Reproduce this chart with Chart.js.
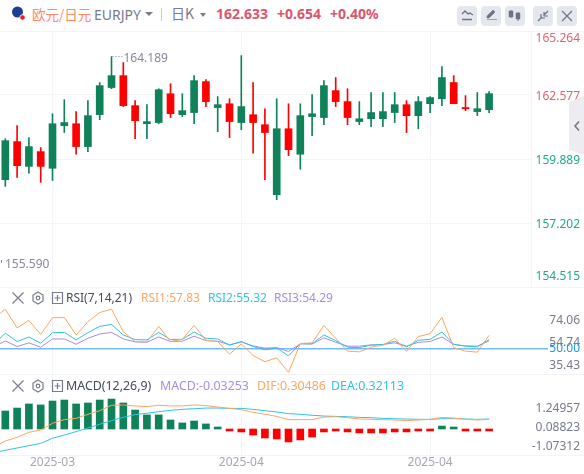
<!DOCTYPE html>
<html>
<head>
<meta charset="utf-8">
<title>EURJPY</title>
<script src="https://cdn.jsdelivr.net/npm/chart.js@4"></script>
<style>
html, body { margin: 0; padding: 0; background: #fff; }
body { width: 584px; height: 474px; overflow: hidden; position: relative; font-family: "Noto Sans", "Noto Sans CJK SC", sans-serif; font-size: 12px; }
canvas { position: absolute; left: 0; }
.t { position: absolute; white-space: nowrap; line-height: 16px; }
.b { font-weight: 700; font-size: 14px; color: #d9566b; top: 5px; line-height: 18px; }
.rule { position: absolute; left: 0; width: 584px; height: 1px; background: #f3f4f7; }
.tool { position: absolute; top: 6px; width: 20px; height: 20px; background: #e5e7ef; border-radius: 4px; }
svg { position: absolute; overflow: visible; }
</style>
</head>
<body>

<!-- header -->
<svg style="left:0;top:0" width="30" height="24">
  <circle cx="17.5" cy="12" r="5.5" fill="#1c3f94"/>
  <circle cx="22.5" cy="17.5" r="2.7" fill="#f01c24" stroke="#fff" stroke-width="0.8"/>
</svg>
<span class="t" style="left:32px;top:5px;font-size:13.5px;line-height:18px;color:#ff8a65;font-family:'Noto Sans CJK SC'">欧元/日元</span>
<span class="t" style="left:94px;top:6px;font-size:14px;line-height:18px;color:#777b8c">EURJPY</span>
<svg style="left:145px;top:12px" width="8" height="6"><path d="M0 0H8L4 4Z" fill="#777b8c"/></svg>
<div style="position:absolute;left:161px;top:8px;width:1px;height:13px;background:#c9ccd6"></div>
<span class="t" style="left:171px;top:4px;font-size:14px;line-height:18px;color:#777b8c;font-family:'Noto Sans CJK SC'">日K</span>
<svg style="left:200px;top:13px" width="8" height="6"><path d="M0 0H6L3 4Z" fill="#777b8c"/></svg>
<span class="t b" style="left:216px">162.633</span>
<span class="t b" style="left:277px">+0.654</span>
<span class="t b" style="left:330px">+0.40%</span>

<div class="tool" style="left:457px"></div>
<div class="tool" style="left:481px"></div>
<div class="tool" style="left:505px"></div>
<div class="tool" style="left:533px"></div>
<div class="tool" style="left:557px"></div>
<svg style="left:0;top:0" width="584" height="30" fill="none" stroke="#6f7384" stroke-width="1.4">
  <path d="M462 14l3-3 3 3 2-1 3 2M462 19.500h10"/>
  <path d="M487 19.500h10M487 16l6-6 2 2-6 6h-2z" fill="#6f7384" stroke-width="0.6"/>
  <path d="M511 10v8M518 12v9M511 12v4M518 14v5" stroke-width="1"/>
  <path d="M509 11h4v6h-4zM516 13h4v6h-4z" fill="#6f7384" stroke-width="0.5"/>
  <path d="M538 21l4-4M548 11l-4 4M541 14v4h4M544 12v4h4" stroke-width="1.2"/>
  <path d="M562 11l10 10M572 11l-10 10" stroke-width="1.2"/>
</svg>

<div class="rule" style="top:31px"></div>
<div class="rule" style="top:287px"></div>
<div class="rule" style="top:374px"></div>
<div class="rule" style="top:455px"></div>

<canvas id="priceChart" width="584" height="258" style="top:30px"></canvas>
<canvas id="rsiChart" width="584" height="86" style="top:288px"></canvas>
<canvas id="macdChart" width="584" height="99" style="top:375px"></canvas>

<!-- collapse tab -->
<svg style="left:0;top:0" width="584" height="160">
  <polygon points="569,102 584,96 584,155 569,150" fill="#ececf1"/>
  <path d="M579 121.500l-4 4.500 4 4.500" fill="none" stroke="#6f7384" stroke-width="1.500"/>
</svg>

<!-- RSI title row -->
<svg style="left:0;top:0" width="70" height="400" fill="none" stroke="#777b8c" stroke-width="1.200">
  <path d="M12.500 292.500l11 11M23.500 292.500l-11 11"/>
  <path d="M38 292l5 3v6l-5 3-5-3v-6z"/><circle cx="38" cy="298" r="1.800"/>
  <path d="M52.500 292.500h10v11h-10zM54.500 298h6M57.500 295v6"/>
  <path d="M12.500 380.500l11 11M23.500 380.500l-11 11"/>
  <path d="M38 380l5 3v6l-5 3-5-3v-6z"/><circle cx="38" cy="386" r="1.800"/>
  <path d="M52.500 380.500h10v11h-10zM54.500 386h6M57.500 383v6"/>
</svg>
<span class="t" style="left:66px;top:290px;color:#444a5a">RSI(7,14,21)</span>
<span class="t" style="left:141px;top:290px;color:#ffa55e">RSI1:57.83</span>
<span class="t" style="left:208px;top:290px;color:#2fc4e0">RSI2:55.32</span>
<span class="t" style="left:274px;top:290px;color:#a98be8">RSI3:54.29</span>

<!-- MACD title row -->
<span class="t" style="left:66px;top:378px;font-size:12.4px;color:#444a5a">MACD(12,26,9)</span>
<span class="t" style="left:160px;top:378px;font-size:12.4px;color:#a98be8">MACD:-0.03253</span>
<span class="t" style="left:257px;top:378px;font-size:12.4px;color:#ffa55e">DIF:0.30486</span>
<span class="t" style="left:331px;top:378px;font-size:12.4px;color:#2fc4e0">DEA:0.32113</span>

<script>
// candles, oldest first
const opens = [159.02, 160.62, 159.58, 160.20, 159.50, 161.29, 161.37, 160.41, 161.75, 162.89, 163.39, 162.13, 161.37, 161.42,
    162.63, 161.75, 161.84, 163.14, 162.05, 162.21, 161.42, 161.75, 161.33, 158.39, 161.16, 160.09, 161.67, 161.63, 162.76,
    162.30, 161.46, 161.58, 161.58, 161.84, 162.17, 161.71, 162.21, 162.42, 163.10, 162.05, 161.88, 161.96];
const closes = [160.66, 159.61, 160.41, 159.58, 161.37, 161.42, 160.41, 161.71, 162.97, 163.39, 162.13, 161.50, 161.46, 162.80,
    161.79, 161.92, 163.18, 162.30, 162.17, 161.46, 162.09, 161.42, 161.00, 161.16, 160.28, 161.71, 161.79, 162.97, 162.30,
    161.63, 161.58, 161.84, 161.88, 162.17, 161.71, 162.30, 162.47, 163.31, 162.21, 162.00, 162.00, 162.633];
const highs = [160.74, 161.29, 160.79, 160.37, 161.79, 162.38, 161.88, 162.34, 163.10, 164.189, 163.94, 162.34, 162.17, 162.84,
    163.05, 162.63, 163.39, 163.22, 162.51, 162.42, 164.23, 163.10, 162.00, 162.42, 162.21, 162.21, 162.59, 163.18, 163.31,
    162.84, 162.30, 162.68, 162.68, 162.68, 162.34, 162.51, 162.51, 163.77, 163.39, 162.55, 162.68, 162.72];
const lows = [158.74, 159.12, 159.29, 158.91, 158.99, 161.00, 160.09, 160.20, 161.54, 162.84, 162.09, 160.74, 160.74, 161.37,
    161.63, 161.67, 161.37, 162.09, 161.04, 160.79, 161.12, 160.13, 159.02, 158.18, 160.03, 159.46, 160.87, 161.33, 162.09,
    161.33, 161.33, 161.25, 161.25, 161.42, 161.00, 161.16, 161.84, 162.13, 162.21, 161.92, 161.71, 161.84];

// indicator lines start one bar before the first visible candle
const rsi1 = [75.5, 83.3, 67.4, 73.8, 62.0, 76.1, 76.3, 61.5, 72.7, 80.5, 83.3, 64.3, 55.9, 55.6, 68.8, 55.9, 57.8, 69.6, 57.0, 55.9,
    45.2, 53.9, 44.1, 38.8, 42.2, 29.8, 54.2, 54.8, 69.6, 58.7, 47.8, 47.2, 51.1, 52.8, 58.7, 47.5, 60.1, 62.6, 76.3, 50.8, 47.8, 46.9, 61.2];
const rsi2 = [53.6, 62.9, 55.9, 59.8, 54.5, 63.4, 63.7, 57.3, 63.4, 68.8, 70.4, 61.5, 57.6, 57.3, 63.7, 57.6, 57.8, 64.0, 58.7, 58.1,
    52.8, 55.9, 51.7, 48.9, 50.3, 43.8, 54.2, 53.9, 61.5, 56.7, 51.1, 50.8, 52.8, 53.4, 56.2, 51.4, 57.0, 57.8, 64.0, 53.6, 52.0, 51.4, 57.6];
const rsi3 = [51.4, 56.4, 51.7, 54.8, 51.1, 58.1, 58.1, 53.6, 58.7, 62.3, 63.7, 58.1, 55.6, 55.3, 59.8, 55.9, 56.2, 60.4, 56.7, 56.2,
    53.1, 55.6, 52.2, 50.3, 50.8, 47.5, 53.9, 53.9, 59.0, 55.3, 52.0, 52.0, 53.1, 53.4, 54.8, 52.0, 55.3, 55.9, 59.8, 53.4, 52.2, 52.0, 56.4];

const macdBars = [1.10, 1.28, 1.53, 1.47, 1.71, 1.77, 1.53, 1.59, 1.77, 1.83, 1.59, 1.16, 0.86, 0.86, 0.55, 0.37, 0.49, 0.31, 0.12,
    -0.12, -0.18, -0.37, -0.55, -0.61, -0.79, -0.67, -0.49, -0.18, -0.12, -0.18, -0.24, -0.24, -0.24, -0.18, -0.18, -0.10, -0.04,
    0.18, 0.06, -0.08, -0.10, -0.03253];
const difLine = [-1.14, -0.73, -0.51, -0.20, -0.06, 0.35, 0.57, 0.65, 0.90, 1.12, 1.45, 1.47, 1.41, 1.37, 1.45, 1.41, 1.41, 1.47, 1.43, 1.34,
    1.26, 1.18, 1.02, 0.90, 0.77, 0.57, 0.57, 0.57, 0.73, 0.75, 0.69, 0.61, 0.59, 0.57, 0.55, 0.51, 0.55, 0.59, 0.71, 0.67, 0.59, 0.55, 0.59];
const deaLine = [-1.45, -1.30, -1.16, -1.02, -0.88, -0.57, -0.37, -0.16, 0.06, 0.29, 0.51, 0.71, 0.88, 0.96, 1.06, 1.14, 1.20, 1.24, 1.28, 1.28,
    1.26, 1.26, 1.20, 1.12, 1.04, 0.94, 0.90, 0.84, 0.79, 0.77, 0.75, 0.71, 0.69, 0.65, 0.63, 0.61, 0.59, 0.59, 0.63, 0.63, 0.61, 0.59, 0.61];

// axis labels
const priceTicks = [165.264, 162.577, 159.889, 157.202, 154.515];
const rsiTicks = [74.06, 54.74, 50, 35.43];
const macdTicks = [1.24957, 0.08823, -1.07312];
const dateTickBars = [4, 20, 36];
const dateTickLabels = ["2025-03", "2025-04", "2025-04"];

const highMark = { bar: 9, value: 164.189, text: "164.189" };
const lowMark = { value: 155.59, text: "155.590" };

const UP = "#0f8259";
const DOWN = "#ff0000";
const GRID = "#f4f5f8";
const FONT = { family: "'Noto Sans'", size: 12, lineHeight: 1 };

const candleColors = opens.map((o, i) => closes[i] >= o ? UP : DOWN);

function xAxis(showLabels) {
    return {
        type: "linear",
        offset: false,
        min: -0.45,
        max: 44.55,
        border: { display: false },
        grid: { color: GRID, drawTicks: false, offset: false },
        afterBuildTicks: scale => { scale.ticks = dateTickBars.map(v => ({ value: v })); },
        // date row under the last pane is 19px tall
        afterFit: scale => { if (showLabels) scale.height = 19; },
        ticks: {
            display: showLabels,
            autoSkip: false,
            maxRotation: 0,
            padding: 2,
            color: "#a5a8b4",
            font: FONT,
            callback: value => dateTickLabels[dateTickBars.indexOf(value)]
        }
    };
}

function baseOptions(x, y, top, bottom) {
    return {
        responsive: false,
        animation: false,
        events: [],
        plugins: { legend: { display: false }, tooltip: { enabled: false } },
        layout: { padding: { top: top, bottom: bottom, right: 4 } },
        scales: { x, y }
    };
}

// y axis stays 49px wide so all panes share one plot width
function fixAxis(scale) {
    scale.width = 49;
    scale.paddingTop = 0;
    scale.paddingBottom = 0;
}

function lineSet(values, color) {
    return {
        type: "line",
        data: values.map((v, i) => ({ x: i - 1, y: v })),
        borderColor: color,
        borderWidth: 1,
        pointRadius: 0,
        tension: 0,
        order: 1
    };
}

// high / low marks on the price pane
const marksPlugin = {
    id: "marks",
    afterDatasetsDraw(chart) {
        const { ctx, scales: { x, y } } = chart;
        ctx.save();
        ctx.font = "12px 'Noto Sans'";
        ctx.fillStyle = "#85899a";
        ctx.textBaseline = "middle";
        const hx = x.getPixelForValue(highMark.bar);
        const hy = y.getPixelForValue(highMark.value);
        ctx.fillText(highMark.text, hx + 12, hy + 2);
        ctx.strokeStyle = "#85899a";
        ctx.setLineDash([1, 2]);
        ctx.beginPath();
        ctx.moveTo(hx + 1, Math.round(hy) - 0.5);
        ctx.lineTo(hx + 11, Math.round(hy) - 0.5);
        ctx.stroke();
        const ly = y.getPixelForValue(lowMark.value);
        ctx.fillRect(1, Math.round(ly) - 1, 1, 3);
        ctx.fillText(lowMark.text, 5, ly + 3);
        ctx.restore();
    }
};

new Chart(document.getElementById("priceChart"), {
    type: "bar",
    data: {
        datasets: [
            {
                data: highs.map((h, i) => ({ x: i, y: [lows[i], h] })),
                backgroundColor: candleColors,
                barThickness: 1,
                grouped: false,
                order: 2
            },
            {
                data: opens.map((o, i) => ({ x: i, y: [o, closes[i]] })),
                backgroundColor: candleColors,
                barThickness: 7,
                grouped: false,
                order: 1
            }
        ]
    },
    options: baseOptions(xAxis(false), {
        type: "linear",
        position: "right",
        min: 154.515,
        max: 165.264,
        afterFit: fixAxis,
        afterBuildTicks: scale => { scale.ticks = priceTicks.map(v => ({ value: v })); },
        border: { display: true, color: GRID },
        grid: { color: GRID, drawTicks: false },
        ticks: {
            autoSkip: false,
            crossAlign: "far",
            padding: 0,
            labelOffset: 2,
            font: FONT,
            color: ctx => ctx.tick.value > 161 ? "#e0646f" : "#1eab8c",
            // keep the first and last labels inside the pane
            callback: value => {
                const text = value.toFixed(3);
                if (value === priceTicks[0]) return ["", text];
                if (value === priceTicks[4]) return [text, "", ""];
                return text;
            }
        }
    }, 1, 1),
    plugins: [marksPlugin]
});

new Chart(document.getElementById("rsiChart"), {
    data: {
        datasets: [lineSet(rsi1, "#ffa55e"), lineSet(rsi2, "#2fc4e0"), lineSet(rsi3, "#a98be8")]
    },
    options: baseOptions(xAxis(false), {
        type: "linear",
        position: "right",
        min: 28.4,
        max: 101.3,
        afterFit: fixAxis,
        afterBuildTicks: scale => { scale.ticks = rsiTicks.map(v => ({ value: v })); },
        border: { display: false },
        grid: {
            color: ctx => ctx.tick.value === 50 ? "#72bdf5" : "transparent",
            tickColor: ctx => ctx.tick.value === 50 ? "#72bdf5" : "transparent",
            lineWidth: ctx => ctx.tick.value === 50 ? 1.5 : 0,
            tickLength: 17,
            tickWidth: 1.5
        },
        ticks: {
            autoSkip: false,
            crossAlign: "far",
            padding: 0,
            font: FONT,
            color: ctx => ctx.tick.value === 50 ? "#2196f3" : "#767a8c",
            callback: value => value.toFixed(2)
        }
    }, 0, 0)
});

new Chart(document.getElementById("macdChart"), {
    data: {
        datasets: [
            lineSet(difLine, "#ffa55e"),
            lineSet(deaLine, "#2fc4e0"),
            {
                type: "bar",
                data: macdBars.map((v, i) => ({ x: i, y: v })),
                backgroundColor: macdBars.map(v => v >= 0 ? UP : DOWN),
                barThickness: 7,
                minBarLength: 2,
                order: 2
            }
        ]
    },
    options: baseOptions(xAxis(true), {
        type: "linear",
        position: "right",
        min: -1.589,
        max: 3.3,
        afterFit: fixAxis,
        afterBuildTicks: scale => { scale.ticks = macdTicks.map(v => ({ value: v })); },
        border: { display: false },
        grid: { display: false, drawTicks: false },
        ticks: {
            autoSkip: false,
            crossAlign: "far",
            padding: 0,
            font: FONT,
            color: "#767a8c",
            callback: value => value.toFixed(5)
        }
    }, 0, 0)
});
</script>
</body>
</html>
